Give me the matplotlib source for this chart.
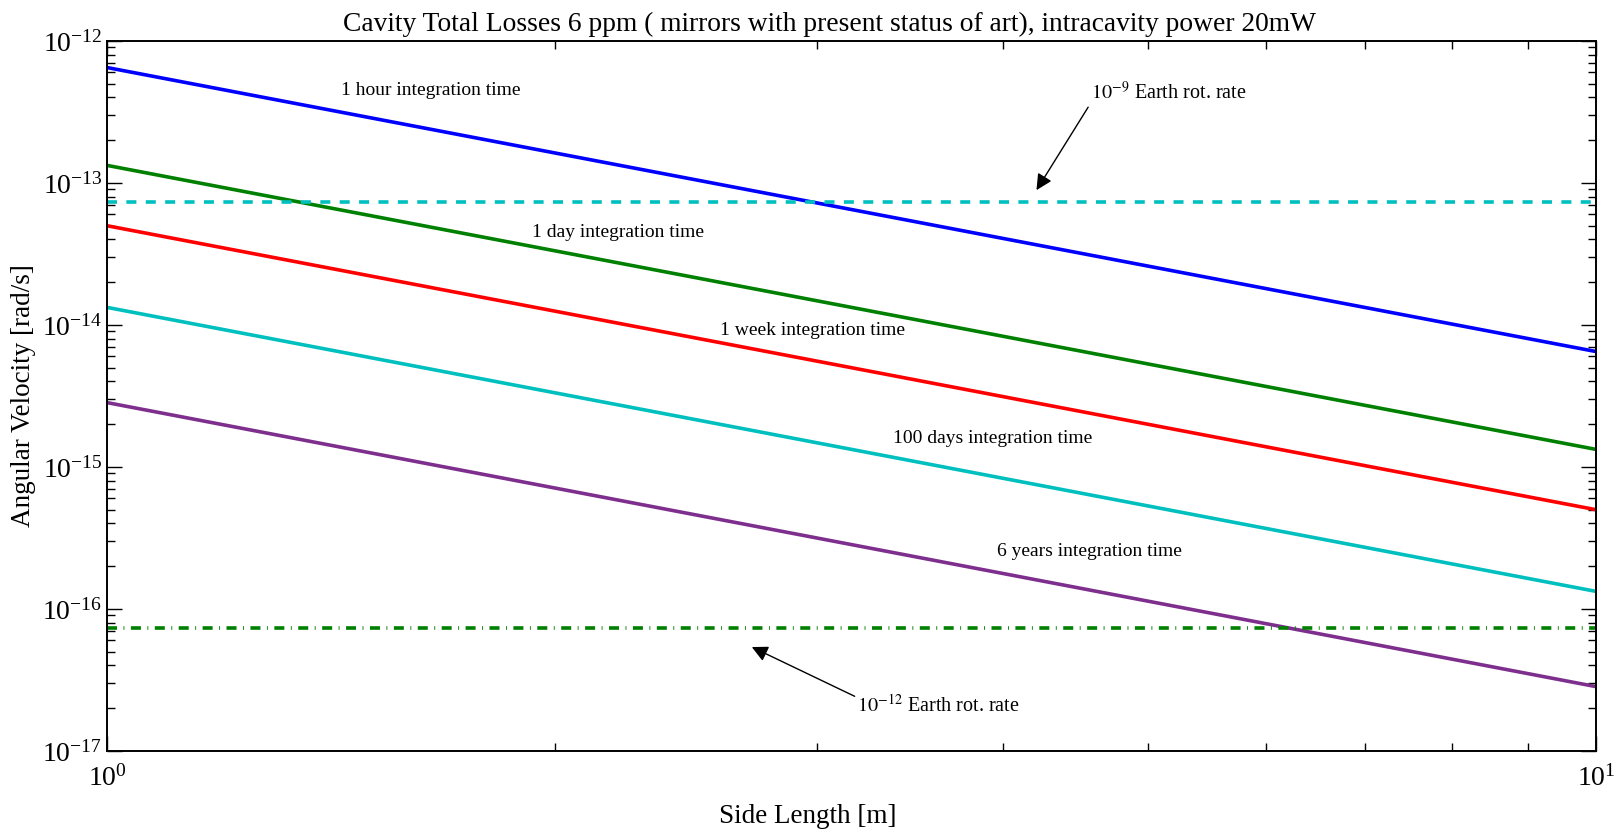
#!/usr/bin/env python3
"""Sensitivity of a ring cavity vs side length for several integration times."""

import numpy as np
import matplotlib
matplotlib.use("Agg")
import matplotlib.pyplot as plt
from matplotlib.ticker import NullFormatter
from matplotlib.patches import FancyArrowPatch

plt.rcParams['font.family'] = 'serif'
plt.rcParams['font.serif'] = ['Liberation Serif', 'DejaVu Serif']
plt.rcParams['mathtext.fontset'] = 'stix'

# side length [m] (lines are straight in log-log, endpoints)
side_length = [1.0, 10.0]

# angular velocity [rad/s] for each integration time
omega_1hour = [6.5e-13, 6.5e-15]
omega_1day = [1.33e-13, 1.33e-15]
omega_1week = [5.0e-14, 5.0e-16]
omega_100days = [1.33e-14, 1.33e-16]
omega_6years = [2.84e-15, 2.84e-17]

earth_rate_1e9 = 7.29e-14
earth_rate_1e12 = 7.29e-17

series_labels = ['1 hour integration time', '1 day integration time',
                 '1 week integration time', '100 days integration time',
                 '6 years integration time']
series_colors = ['#0000ff', '#008000', '#ff0000', '#00bfbf', '#7e2f8e']
# label anchor (x, y) in data units
label_x = [1.435, 1.93, 2.58, 3.37, 3.96]
label_y = [4.49e-13, 4.47e-14, 9.14e-15, 1.58e-15, 2.52e-16]


def main():
    fig = plt.figure(figsize=(16.17, 8.31), dpi=100)
    ax = fig.add_axes([0.0662, 0.0963, 0.9208, 0.8544])

    all_series = [omega_1hour, omega_1day, omega_1week, omega_100days, omega_6years]
    for vals, col in zip(all_series, series_colors):
        ax.plot(side_length, vals, color=col, lw=2.6)

    ax.axhline(earth_rate_1e9, color='#00bfbf', ls=(0, (2.77, 2.6)), lw=2.6)
    ax.axhline(earth_rate_1e12, color='#008000', ls=(0, (2.77, 1.8, 0.25, 1.8)), lw=2.6)

    for txt, x, y in zip(series_labels, label_x, label_y):
        ax.text(x, y, txt, fontsize=14, ha='left', va='center')

    ax.add_patch(FancyArrowPatch((4.57, 3.55e-13), (4.2, 8.57e-14), arrowstyle='-|>',
                                 color='k', lw=1, mutation_scale=24))
    ax.text(4.58, 4.3e-13, r'$10^{-9}$ Earth rot. rate', fontsize=14.5, ha='left', va='center')

    ax.add_patch(FancyArrowPatch((3.19, 2.38e-17), (2.70, 5.5e-17), arrowstyle='-|>',
                                 color='k', lw=1, mutation_scale=24))
    ax.text(3.19, 2.1e-17, r'$10^{-12}$ Earth rot. rate', fontsize=14.5, ha='left', va='center')

    ax.set_xscale('log')
    ax.set_yscale('log')
    ax.set_xlim(1, 10)
    ax.set_ylim(1e-17, 1e-12)
    ax.xaxis.set_minor_formatter(NullFormatter())
    ax.yaxis.set_minor_formatter(NullFormatter())

    ax.tick_params(which='both', direction='in', top=True, right=True, labelsize=20)
    ax.tick_params(axis='x', which='major', pad=10)
    ax.tick_params(which='major', length=11, width=1)
    ax.tick_params(which='minor', length=5.5, width=1)
    for s in ax.spines.values():
        s.set_linewidth(1.4)

    ax.set_xlabel('Side Length [m]', fontsize=19.5)
    ax.xaxis.set_label_coords(0.4705, -0.074)
    ax.set_ylabel('Angular Velocity [rad/s]', fontsize=19.5, labelpad=4)
    ax.set_title('Cavity Total Losses 6 ppm ( mirrors with present status of art), '
                 'intracavity power 20mW', fontsize=19.8, pad=7, x=0.485)

    fig.savefig('out.png', dpi=100)


if __name__ == "__main__":
    main()
